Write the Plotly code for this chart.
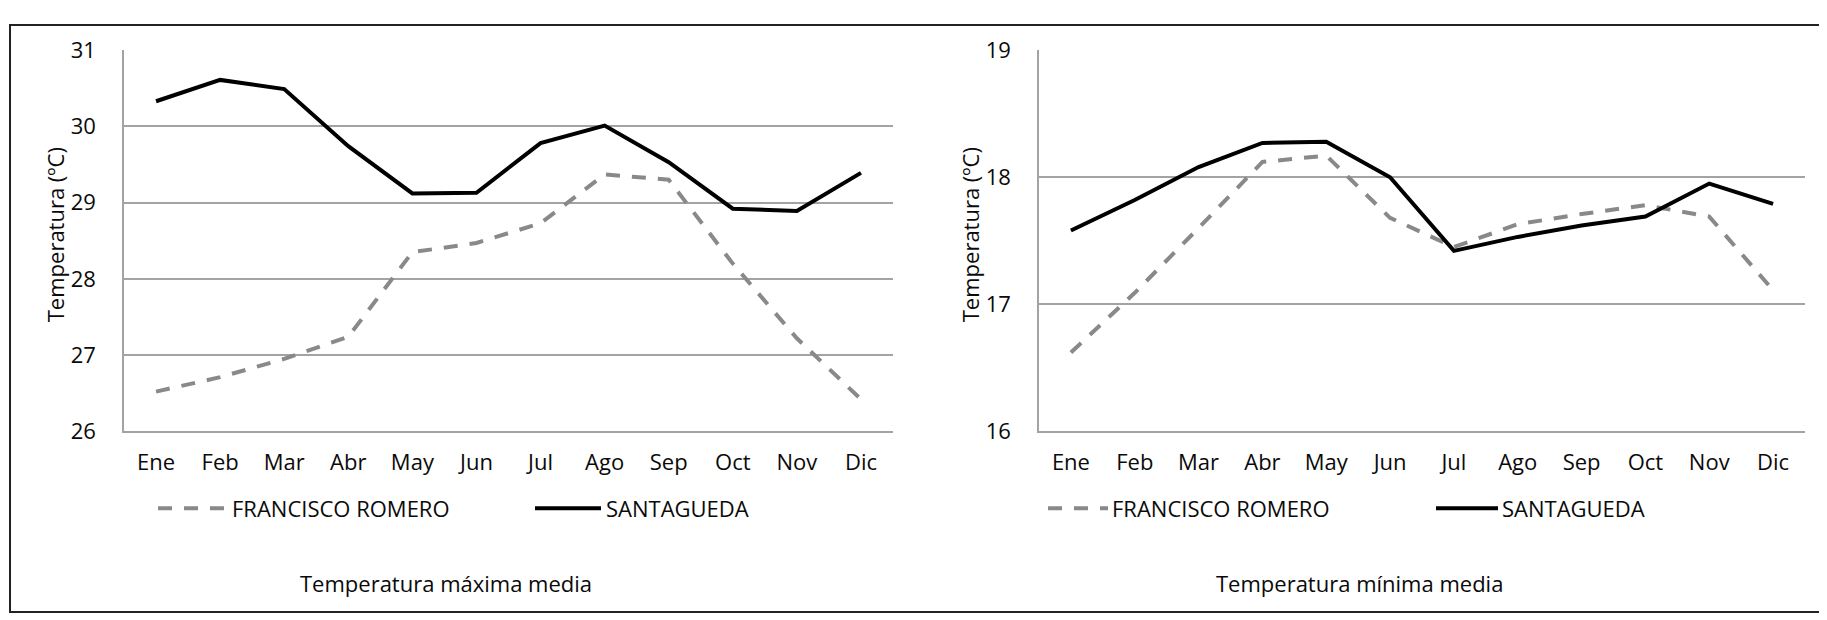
import plotly.graph_objects as go

months = ["Ene", "Feb", "Mar", "Abr", "May", "Jun", "Jul", "Ago", "Sep", "Oct", "Nov", "Dic"]
series_names = ["FRANCISCO ROMERO", "SANTAGUEDA"]
max_fr = [26.52, 26.71, 26.95, 27.24, 28.35, 28.47, 28.73, 29.37, 29.30, 28.20, 27.22, 26.42]
max_st = [30.33, 30.61, 30.49, 29.74, 29.12, 29.13, 29.78, 30.01, 29.53, 28.92, 28.89, 29.39]
min_fr = [16.62, 17.09, 17.60, 18.12, 18.17, 17.68, 17.45, 17.63, 17.71, 17.78, 17.69, 17.11]
min_st = [17.58, 17.82, 18.08, 18.27, 18.28, 18.00, 17.42, 17.53, 17.62, 17.69, 17.95, 17.79]
max_ticks = [26, 27, 28, 29, 30, 31]
min_ticks = [16, 17, 18, 19]
titles = ["Temperatura máxima media", "Temperatura mínima media"]
ytitle = "Temperatura (ºC)"

W, H = 1827, 620
FONT = "Open Sans"
FS = 22
TXT = "#0a0a0a"
GREY = "#898989"
GRID = "#a3a3a3"

def px(x):
    return x / W

def py(y):
    return 1 - y / H

fig = go.Figure()

dash = "14px,12px"
fig.add_trace(go.Scatter(x=months, y=max_fr, mode="lines", name=series_names[0],
                         line=dict(color=GREY, width=4, dash=dash), xaxis="x", yaxis="y", showlegend=False))
fig.add_trace(go.Scatter(x=months, y=max_st, mode="lines", name=series_names[1],
                         line=dict(color="black", width=4), xaxis="x", yaxis="y", showlegend=False))
fig.add_trace(go.Scatter(x=months, y=min_fr, mode="lines", name=series_names[0],
                         line=dict(color=GREY, width=4, dash=dash), xaxis="x2", yaxis="y2", showlegend=False))
fig.add_trace(go.Scatter(x=months, y=min_st, mode="lines", name=series_names[1],
                         line=dict(color="black", width=4), xaxis="x2", yaxis="y2", showlegend=False))

ydom = [py(428), py(27.5)]
common_x = dict(type="category", range=[-0.5, 11.5], showgrid=False, showline=True,
                linecolor=GRID, linewidth=1.5, ticks="", tickfont=dict(family=FONT, size=FS, color=TXT),
                ticklabelstandoff=11, fixedrange=True)
common_y = dict(showgrid=True, gridcolor=GRID, gridwidth=1.5, showline=True, linecolor=GRID,
                linewidth=1.5, ticks="", zeroline=False, tickfont=dict(family=FONT, size=FS, color=TXT),
                ticklabelstandoff=22, fixedrange=True)

fig.update_layout(
    width=W, height=H,
    margin=dict(l=0, r=0, t=0, b=0),
    paper_bgcolor="white", plot_bgcolor="white",
    font=dict(family=FONT, size=FS, color=TXT),
    xaxis=dict(common_x, domain=[px(116), px(885)], anchor="y"),
    yaxis=dict(common_y, domain=ydom, anchor="x", range=[26, 31], tickvals=max_ticks),
    xaxis2=dict(common_x, domain=[px(1031), px(1797)], anchor="y2"),
    yaxis2=dict(common_y, domain=ydom, anchor="x2", range=[16, 19], tickvals=min_ticks),
    showlegend=False,
)

annotations = []
shapes = []
# y-axis titles
for xc in (47, 962):
    annotations.append(dict(x=px(xc), y=py(222), xref="paper", yref="paper", text=ytitle,
                            textangle=-90, showarrow=False, font=dict(family=FONT, size=FS, color=TXT),
                            xanchor="center", yanchor="middle"))
# chart titles
for xc, t in zip((438, 1351), titles):
    annotations.append(dict(x=px(xc), y=py(587), xref="paper", yref="paper", text=t,
                            showarrow=False, font=dict(family=FONT, size=FS, color=TXT),
                            xanchor="center", yanchor="middle"))

# legends (manual)
leg_y = 509
legend_items = [
    (150, 217, 222, series_names[0], GREY, dash),
    (527, 593, 596, series_names[1], "black", "solid"),
    (1040, 1100, 1102, series_names[0], GREY, dash),
    (1428, 1490, 1492, series_names[1], "black", "solid"),
]
for x0, x1, xt, name, col, d in legend_items:
    shapes.append(dict(type="line", xref="paper", yref="paper", x0=px(x0), x1=px(x1),
                       y0=py(leg_y), y1=py(leg_y), line=dict(color=col, width=4, dash=d)))
    annotations.append(dict(x=px(xt), y=py(leg_y), xref="paper", yref="paper", text=name,
                            showarrow=False, font=dict(family=FONT, size=FS, color=TXT),
                            xanchor="left", yanchor="middle"))

# outer frame
shapes.append(dict(type="rect", xref="paper", yref="paper", x0=px(2), x1=px(1822), y0=py(618), y1=py(1),
                   line=dict(color="#222", width=2), fillcolor="rgba(0,0,0,0)"))

fig.update_layout(annotations=annotations, shapes=shapes)

fig.write_html("out.html")
